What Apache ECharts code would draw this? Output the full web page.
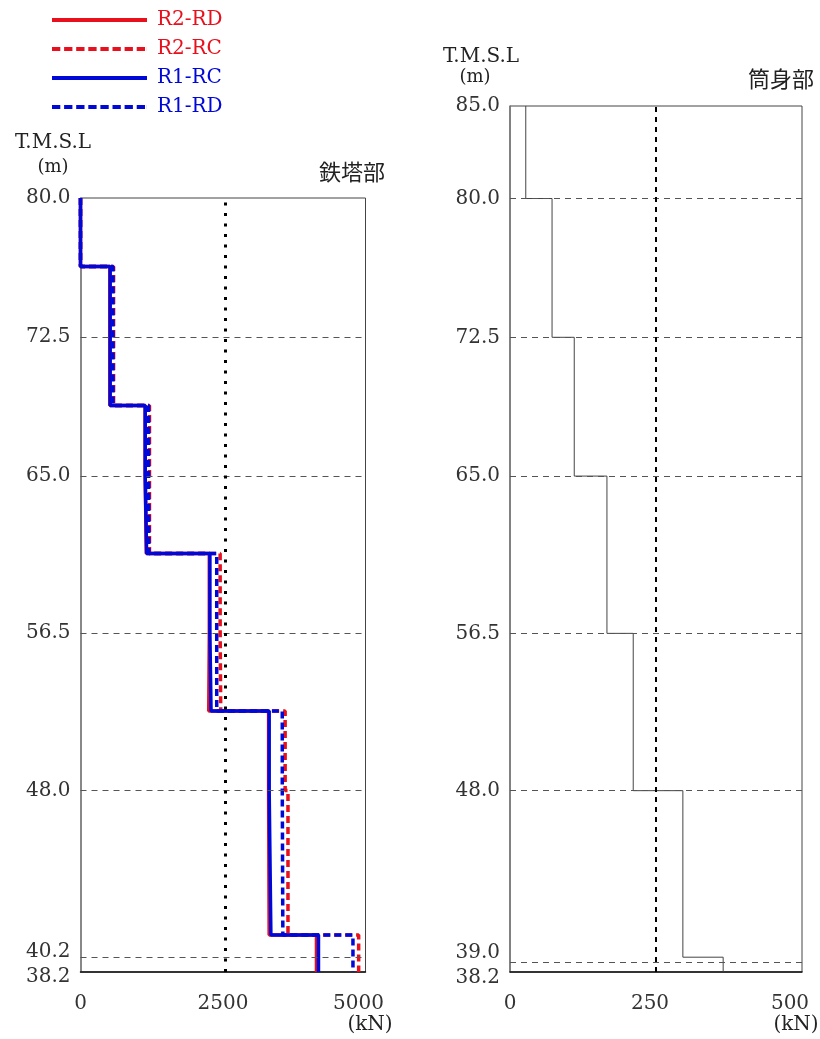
<!DOCTYPE html>
<html>
<head>
<meta charset="utf-8">
<script src="https://cdn.jsdelivr.net/npm/echarts@6/dist/echarts.min.js"></script>
<style>html,body{margin:0;padding:0;background:#fff;}#c{width:820px;height:1039px;}</style>
</head>
<body>
<div id="c"></div>
<script>
// ---- Data ----
// 鉄塔部 (left): level boundaries (T.M.S.L, m) and shear values (kN) per interval
const levelsTower = [80.0, 76.3, 68.8, 65.0, 60.8, 56.5, 52.3, 48.0, 40.2, 38.2];
const r2rd = [0, 515, 1135, 1155, 2260, 2250, 3300, 3310, 4140];
const r2rc = [0, 580, 1210, 1210, 2450, 2460, 3590, 3640, 4880];
const r1rc = [0, 520, 1135, 1160, 2270, 2290, 3310, 3340, 4175];
const r1rd = [0, 570, 1195, 1200, 2390, 2390, 3540, 3550, 4780];
const towerLimit = 2540;
const towerTickValues = [80.0, 72.5, 65.0, 56.5, 48.0, 40.2, 38.2];
const towerTickLabels = ['80.0', '72.5', '65.0', '56.5', '48.0', '40.2', '38.2'];
const towerGridLevels = [72.5, 65.0, 56.5, 48.0, 39.0];
const towerXTicks = ['0', '2500', '5000'];

// 筒身部 (right)
const levelsShaft = [85.0, 80.0, 72.5, 65.0, 56.5, 48.0, 39.0, 38.2];
const shaftValues = [27, 72, 110, 166, 211, 296, 365];
const shaftLimit = 250;
const shaftTickValues = [85.0, 80.0, 72.5, 65.0, 56.5, 48.0, 39.0, 38.2];
const shaftTickLabels = ['85.0', '80.0', '72.5', '65.0', '56.5', '48.0', '39.0', '38.2'];
const shaftGridLevels = [80.0, 72.5, 65.0, 56.5, 48.0, 38.75];
const shaftXTicks = ['0', '250', '500'];

const seriesNames = ['R2-RD', 'R2-RC', 'R1-RC', 'R1-RD'];

// ---- Build ----
function steps(levels, vals) {
  const pts = [];
  vals.forEach((v, i) => { pts.push([v, levels[i]]); pts.push([v, levels[i + 1]]); });
  return pts;
}
const RED = '#e8101c', BLUE = '#0008d8';
const NUMFONT = 'DejaVu Serif';
const NUMSIZE = 20;

// legend icons (solid bar / dashed bar)
const ICON_SOLID = 'path://M0,0H95V4H0Z';
let dashPath = 'path://';
for (let i = 0; i < 8; i++) { const x0 = i * 12.1; dashPath += 'M' + x0 + ',0H' + (x0 + 8.3) + 'V4H' + x0 + 'Z'; }
dashPath += 'M94.9,0H95V4H94.9Z';
const ICON_DASH = dashPath;

function yLabelFormatter(values, labels, shifts) {
  return function (v) {
    let idx = -1;
    values.forEach((t, i) => { if (Math.abs(t - v) < 1e-6) idx = i; });
    if (idx < 0) return '';
    const s = shifts[labels[idx]];
    if (s) return '{' + s + '|' + labels[idx] + '}';
    return labels[idx];
  };
}
const numStyle = { fontFamily: NUMFONT, fontSize: NUMSIZE, color: '#333' };
const richY = {
  dn17: Object.assign({ padding: [34, 0, 0, 0] }, numStyle),
  dn5: Object.assign({ padding: [10, 0, 0, 0] }, numStyle),
  dn6: Object.assign({ padding: [12, 0, 0, 0] }, numStyle),
  up5: Object.assign({ padding: [0, 0, 9, 0] }, numStyle)
};
const richX = {
  l6: Object.assign({ padding: [0, 12, 0, 0] }, numStyle),
  l7: Object.assign({ padding: [0, 14, 0, 0] }, numStyle),
  l12: Object.assign({ padding: [0, 24, 0, 0] }, numStyle)
};

function gridSeries(name, xi, levels) {
  return {
    name: name, type: 'line', xAxisIndex: xi, yAxisIndex: xi, data: [], z: 1, silent: true,
    markLine: {
      silent: true, symbol: ['none', 'none'], label: { show: false },
      lineStyle: { type: [6, 5], color: '#555', width: 1 },
      data: levels.map(v => ({ yAxis: v }))
    }
  };
}
function limitSeries(name, xi, val, width, dash) {
  return {
    name: name, type: 'line', xAxisIndex: xi, yAxisIndex: xi, data: [], z: 1, silent: true,
    markLine: {
      silent: true, symbol: ['none', 'none'], label: { show: false },
      lineStyle: { type: dash, color: '#000', width: width },
      data: [{ xAxis: val }]
    }
  };
}
function dataSeries(name, data, color, dashed) {
  return {
    name: name, type: 'line', xAxisIndex: 0, yAxisIndex: 0, data: data, symbol: 'none',
    showSymbol: false, clip: false, z: 3,
    lineStyle: { color: color, width: 3.5, type: dashed ? [7, 4] : 'solid' },
    itemStyle: { color: color }
  };
}

const option = {
  animation: false,
  backgroundColor: '#fff',
  legend: {
    orient: 'vertical', left: 52, top: 10, padding: 0, itemWidth: 95, itemHeight: 4, itemGap: 9,
    symbolKeepAspect: false,
    textStyle: { fontFamily: NUMFONT, fontSize: 20, lineHeight: 20, padding: [0, 0, 0, 5] },
    data: [
      { name: 'R2-RD', icon: ICON_SOLID, textStyle: { color: RED } },
      { name: 'R2-RC', icon: ICON_DASH, textStyle: { color: RED } },
      { name: 'R1-RC', icon: ICON_SOLID, textStyle: { color: BLUE } },
      { name: 'R1-RD', icon: ICON_DASH, textStyle: { color: BLUE } }
    ]
  },
  grid: [
    { left: 80.5, right: 820 - 365.5, top: 198, bottom: 1039 - 972, show: true, borderColor: '#444', borderWidth: 1, outerBoundsMode: 'none' },
    { left: 510, right: 820 - 802, top: 106, bottom: 1039 - 972, show: true, borderColor: '#444', borderWidth: 1, outerBoundsMode: 'none' }
  ],
  xAxis: [
    {
      gridIndex: 0, type: 'value', min: 0, max: 5000, interval: 2500,
      axisLine: { show: true, onZero: false, lineStyle: { color: '#111', width: 1.5 } },
      axisTick: { show: false }, splitLine: { show: false },
      axisLabel: {
        margin: 22, fontFamily: NUMFONT, fontSize: NUMSIZE, color: '#333', rich: richX,
        formatter: v => { const i = Math.round(v / 2500); return i === 2 ? '{l7|' + towerXTicks[i] + '}' : towerXTicks[i]; }
      }
    },
    {
      gridIndex: 1, type: 'value', min: 0, max: 500, interval: 250,
      axisLine: { show: true, onZero: false, lineStyle: { color: '#111', width: 1.5 } },
      axisTick: { show: false }, splitLine: { show: false },
      axisLabel: {
        margin: 22, fontFamily: NUMFONT, fontSize: NUMSIZE, color: '#333', rich: richX,
        formatter: v => { const i = Math.round(v / 250); return i === 1 ? '{l6|' + shaftXTicks[i] + '}' : i === 2 ? '{l12|' + shaftXTicks[i] + '}' : shaftXTicks[i]; }
      }
    }
  ],
  yAxis: [
    {
      gridIndex: 0, type: 'value', min: 38.2, max: 80,
      axisLine: { show: true, onZero: false, lineStyle: { color: '#888', width: 2 } },
      axisTick: { show: false }, splitLine: { show: false },
      axisLabel: {
        customValues: towerTickValues, margin: 10, fontFamily: NUMFONT, fontSize: NUMSIZE, color: '#333', rich: richY,
        formatter: yLabelFormatter(towerTickValues, towerTickLabels, { '40.2': 'dn17', '38.2': 'dn5' })
      }
    },
    {
      gridIndex: 1, type: 'value', min: 38.2, max: 85,
      axisLine: { show: true, onZero: false, lineStyle: { color: '#777', width: 1.5 } },
      axisTick: { show: false }, splitLine: { show: false },
      axisLabel: {
        customValues: shaftTickValues, margin: 10, fontFamily: NUMFONT, fontSize: NUMSIZE, color: '#333', rich: richY,
        formatter: yLabelFormatter(shaftTickValues, shaftTickLabels, { '39.0': 'up5', '38.2': 'dn6' })
      }
    }
  ],
  series: [
    gridSeries('gridL', 0, towerGridLevels),
    limitSeries('limL', 0, towerLimit, 3, [3, 7.5]),
    dataSeries('R2-RD', steps(levelsTower, r2rd), RED, false),
    dataSeries('R2-RC', steps(levelsTower, r2rc), RED, true),
    dataSeries('R1-RC', steps(levelsTower, r1rc), BLUE, false),
    dataSeries('R1-RD', steps(levelsTower, r1rd), BLUE, true),
    gridSeries('gridR', 1, shaftGridLevels),
    limitSeries('limR', 1, shaftLimit, 2, [5, 5]),
    {
      name: '筒身部', type: 'line', xAxisIndex: 1, yAxisIndex: 1, data: steps(levelsShaft, shaftValues),
      symbol: 'none', clip: false, z: 3, lineStyle: { color: '#444', width: 1 }
    }
  ],
  graphic: [
    { type: 'text', style: { x: 53, y: 143, text: 'T.M.S.L', font: '20px "DejaVu Serif"', fill: '#222', align: 'center', verticalAlign: 'middle' } },
    { type: 'text', style: { x: 53, y: 167, text: '(m)', font: '18px "DejaVu Serif"', fill: '#222', align: 'center', verticalAlign: 'middle' } },
    { type: 'text', style: { x: 352, y: 172, text: '鉄塔部', font: '22px "Noto Sans CJK JP"', fill: '#222', align: 'center', verticalAlign: 'middle' } },
    { type: 'text', style: { x: 481, y: 57, text: 'T.M.S.L', font: '20px "DejaVu Serif"', fill: '#222', align: 'center', verticalAlign: 'middle' } },
    { type: 'text', style: { x: 475, y: 77, text: '(m)', font: '18px "DejaVu Serif"', fill: '#222', align: 'center', verticalAlign: 'middle' } },
    { type: 'text', style: { x: 781, y: 79, text: '筒身部', font: '22px "Noto Sans CJK JP"', fill: '#222', align: 'center', verticalAlign: 'middle' } },
    { type: 'text', style: { x: 370, y: 1025, text: '(kN)', font: '20px "DejaVu Serif"', fill: '#222', align: 'center', verticalAlign: 'middle' } },
    { type: 'text', style: { x: 796, y: 1025, text: '(kN)', font: '20px "DejaVu Serif"', fill: '#222', align: 'center', verticalAlign: 'middle' } }
  ]
};
const chart = echarts.init(document.getElementById('c'), null, { renderer: 'canvas' });
chart.setOption(option);
</script>
</body>
</html>
